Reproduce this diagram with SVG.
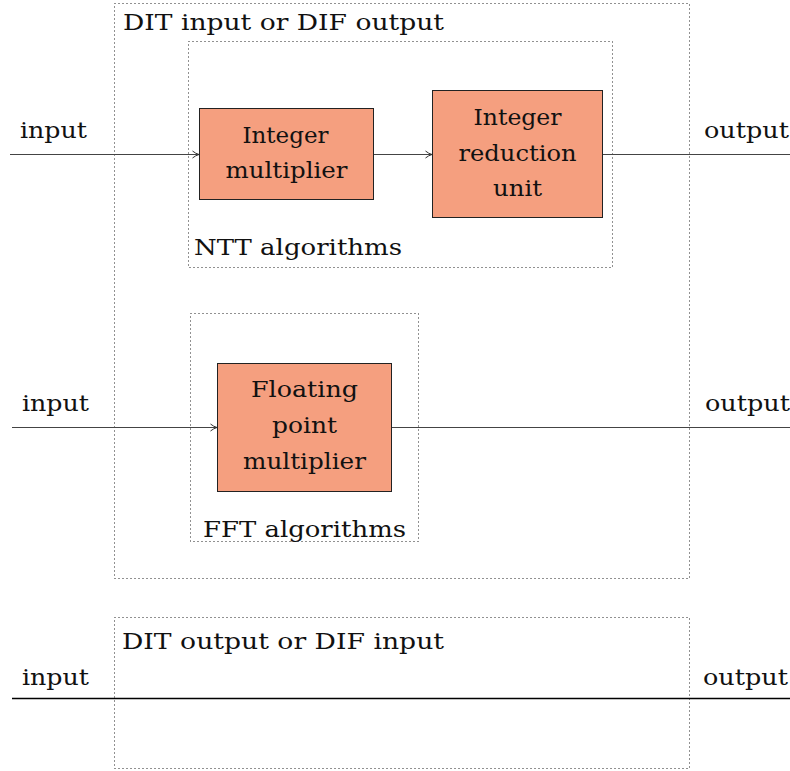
<svg xmlns="http://www.w3.org/2000/svg" width="790" height="771" viewBox="0 0 790 771">
  <style>
    .frame { fill: none; stroke: #222; stroke-width: 1; stroke-dasharray: 1 3; }
    .block { fill: #F59F7F; stroke: #222; stroke-width: 1; }
    .wire { fill: none; stroke: #444; stroke-width: 1; }
    .wire-strong { fill: none; stroke: #000; stroke-width: 1.6; }
    text { font-family: "DejaVu Serif", "Liberation Serif", serif; font-size: 22.5px; fill: #111; }
    .c { text-anchor: middle; }
  </style>
  <defs>
    <marker id="arrow" viewBox="0 0 8 10" refX="7.5" refY="5" markerWidth="8" markerHeight="10" markerUnits="userSpaceOnUse" orient="auto">
      <path d="M1,1.5 Q4,4 7.5,5 Q4,6 1,8.5" fill="none" stroke="#333" stroke-width="1"/>
    </marker>
  </defs>

  <!-- stage frames -->
  <g id="dit-input-frame">
    <rect class="frame" x="114.5" y="3.5" width="575" height="575"/>
    <text x="123" y="30" textLength="321" lengthAdjust="spacingAndGlyphs">DIT input or DIF output</text>
  </g>
  <g id="ntt-frame">
    <rect class="frame" x="188.5" y="41.5" width="424" height="226"/>
    <text x="194" y="255" textLength="208" lengthAdjust="spacingAndGlyphs">NTT algorithms</text>
  </g>
  <g id="fft-frame">
    <rect class="frame" x="190.5" y="313.5" width="228" height="228"/>
    <text x="203" y="537" textLength="203" lengthAdjust="spacingAndGlyphs">FFT algorithms</text>
  </g>
  <g id="dit-output-frame">
    <rect class="frame" x="114.5" y="617.5" width="575" height="151"/>
    <text x="122" y="649" textLength="322" lengthAdjust="spacingAndGlyphs">DIT output or DIF input</text>
  </g>

  <!-- connectors -->
  <g id="connectors">
    <line class="wire" x1="10" y1="154.5" x2="199" y2="154.5" marker-end="url(#arrow)"/>
    <line class="wire" x1="374" y1="154.5" x2="432" y2="154.5" marker-end="url(#arrow)"/>
    <line class="wire" x1="603" y1="154.5" x2="790" y2="154.5"/>
    <line class="wire" x1="12" y1="427.5" x2="217" y2="427.5" marker-end="url(#arrow)"/>
    <line class="wire" x1="392" y1="427.5" x2="790" y2="427.5"/>
    <line class="wire-strong" x1="12" y1="698.5" x2="790" y2="698.5"/>
  </g>

  <!-- processing blocks -->
  <g id="integer-multiplier">
    <rect class="block" x="199.5" y="108.5" width="174" height="91"/>
    <text class="c" x="285.5" y="142.5" textLength="86" lengthAdjust="spacingAndGlyphs">Integer</text>
    <text class="c" x="286.5" y="178" textLength="122" lengthAdjust="spacingAndGlyphs">multiplier</text>
  </g>
  <g id="integer-reduction-unit">
    <rect class="block" x="432.5" y="90.5" width="170" height="127"/>
    <text class="c" x="517.5" y="125" textLength="88" lengthAdjust="spacingAndGlyphs">Integer</text>
    <text class="c" x="517.5" y="160.5" textLength="118" lengthAdjust="spacingAndGlyphs">reduction</text>
    <text class="c" x="517.5" y="196" textLength="49" lengthAdjust="spacingAndGlyphs">unit</text>
  </g>
  <g id="floating-point-multiplier">
    <rect class="block" x="217.5" y="363.5" width="174" height="128"/>
    <text class="c" x="304.5" y="397" textLength="107" lengthAdjust="spacingAndGlyphs">Floating</text>
    <text class="c" x="304.5" y="433" textLength="65" lengthAdjust="spacingAndGlyphs">point</text>
    <text class="c" x="304.5" y="469" textLength="123" lengthAdjust="spacingAndGlyphs">multiplier</text>
  </g>

  <!-- port labels -->
  <g id="port-labels">
    <text x="20" y="138" textLength="67" lengthAdjust="spacingAndGlyphs">input</text>
    <text x="704" y="138" textLength="85" lengthAdjust="spacingAndGlyphs">output</text>
    <text x="22" y="411" textLength="67" lengthAdjust="spacingAndGlyphs">input</text>
    <text x="705" y="411" textLength="85" lengthAdjust="spacingAndGlyphs">output</text>
    <text x="22" y="685" textLength="67" lengthAdjust="spacingAndGlyphs">input</text>
    <text x="703" y="685" textLength="85" lengthAdjust="spacingAndGlyphs">output</text>
  </g>
</svg>
